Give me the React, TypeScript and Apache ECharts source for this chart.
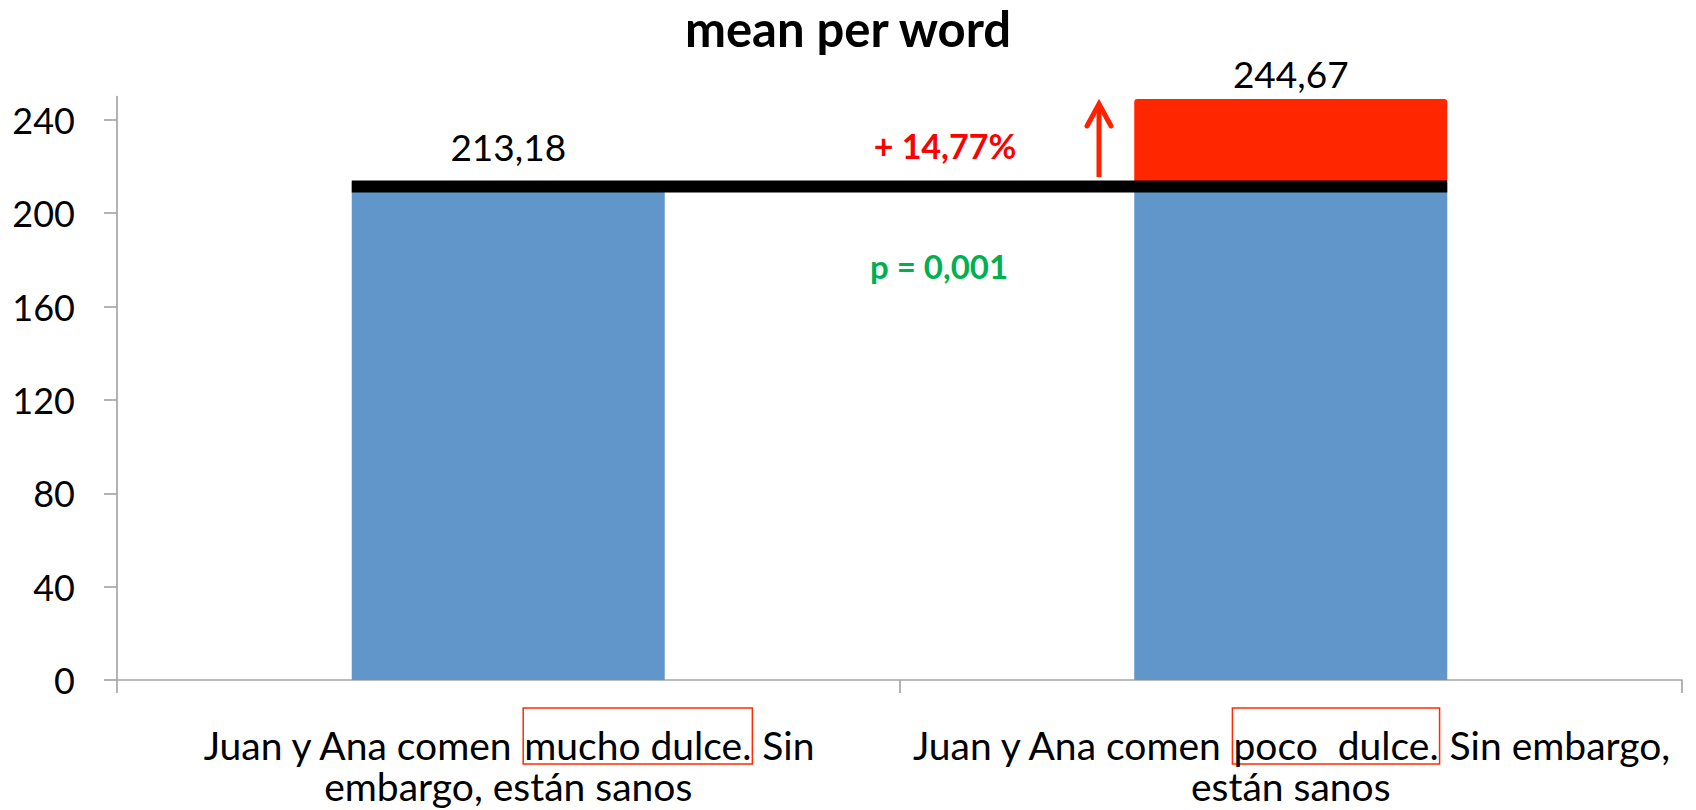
import React, { useEffect, useRef } from "react";
import * as echarts from "echarts";

const chartTitle = "mean per word";
const categories = [
  "Juan y Ana comen mucho dulce. Sin\nembargo, están sanos",
  "Juan y Ana comen poco  dulce. Sin embargo,\nestán sanos",
];
const highlighted = ["mucho dulce.", "poco  dulce."];
const baseValues = [213.18, 213.18];
const redBarTop = [null, 248.9];
const valueLabels = ["213,18", "244,67"];
const baselineValue = 213.18;
const yTicks = [0, 40, 80, 120, 160, 200, 240];
const yMax = 250;
const increaseText = "+ 14,77%";
const pText = "p = 0,001";

const FONT = "Lato, 'Open Sans', sans-serif";
const BLUE = "#6096c9";
const RED_BAR = "#ff2600";

export default function App() {
  const ref = useRef<HTMLDivElement>(null);
  useEffect(() => {
    if (!ref.current) return;
    const chart = echarts.init(ref.current, null, { renderer: "svg" });
    const redSegment = redBarTop.map((v, i) => (v == null ? null : v - baseValues[i]));
    chart.setOption({
      animation: false,
      backgroundColor: "#ffffff",
      textStyle: { fontFamily: FONT },
      title: {
        text: chartTitle,
        left: "center",
        top: 3,
        padding: 0,
        textStyle: { fontFamily: FONT, fontSize: 49, fontWeight: "bold", color: "#000" },
      },
      grid: { left: 117, right: 14, top: 96.5, bottom: 130, containLabel: false },
      xAxis: {
        type: "category",
        data: categories,
        axisLine: { lineStyle: { color: "#a6a6a6", width: 1.7 } },
        axisTick: { show: true, length: 13, lineStyle: { color: "#a6a6a6", width: 1.7 } },
        axisLabel: {
          interval: 0,
          margin: 40,
          color: "#000",
          fontFamily: FONT,
          fontSize: 39,
          lineHeight: 44,
          formatter: (v: string, i: number) => {
            const h = highlighted[i];
            const lines = v.split("\n");
            const first = h ? lines[0].replace(h, `}{box|${h}}{t|`) : lines[0];
            return [`{t|${first}}`, ...lines.slice(1)].join("\n");
          },
          rich: {
            t: {
              fontFamily: FONT,
              fontSize: 39,
              lineHeight: 44,
              color: "#000",
              verticalAlign: "bottom",
            },
            box: {
              fontFamily: FONT,
              fontSize: 39,
              lineHeight: 44,
              color: "#000",
              borderColor: "#ff2a00",
              borderWidth: 1.5,
              padding: [17, 1, 0, 1],
              verticalAlign: "bottom",
            },
          },
        },
      },
      yAxis: {
        type: "value",
        min: 0,
        max: yMax,
        interval: 40,
        splitLine: { show: false },
        axisLine: { show: true, lineStyle: { color: "#a6a6a6", width: 1.7 } },
        axisTick: { show: true, length: 13, customValues: yTicks, lineStyle: { color: "#a6a6a6", width: 1.7 } },
        axisLabel: { customValues: yTicks, margin: 42, color: "#000", fontFamily: FONT, fontSize: 36 },
      },
      series: [
        {
          type: "bar",
          stack: "s",
          barWidth: "40%",
          itemStyle: { color: BLUE },
          data: baseValues.map((v, i) => ({
            value: v,
            label: {
              show: i === 0,
              position: "top",
              distance: 17,
              formatter: valueLabels[i],
              color: "#000",
              fontFamily: FONT,
              fontSize: 37,
            },
          })),
        },
        {
          type: "bar",
          stack: "s",
          barWidth: "40%",
          z: 3,
          itemStyle: { color: RED_BAR, borderRadius: 3 },
          data: redSegment.map((v, i) => ({
            value: v,
            label: {
              show: v != null,
              position: "top",
              distance: 7,
              formatter: valueLabels[i],
              color: "#000",
              fontFamily: FONT,
              fontSize: 37,
            },
          })),
        },
        {
          type: "custom",
          z: 5,
          data: [[0, baselineValue]],
          renderItem: (params: any, api: any) => {
            const v = api.value(1);
            const p0 = api.coord([0, v]);
            const p1 = api.coord([categories.length - 1, v]);
            const band = api.size([1, 0])[0];
            const half = (band * 0.4) / 2;
            return {
              type: "rect",
              shape: { x: p0[0] - half, y: p0[1] - 2, width: p1[0] - p0[0] + 2 * half, height: 12 },
              style: { fill: "#000" },
            };
          },
        },
      ],
      graphic: [
        {
          type: "text",
          x: 945,
          y: 145,
          style: {
            text: increaseText,
            fill: "#ff0000",
            fontFamily: FONT,
            fontWeight: "bold",
            fontSize: 34,
            align: "center",
            verticalAlign: "middle",
          },
        },
        {
          type: "text",
          x: 939,
          y: 266,
          style: {
            text: pText,
            fill: "#00b050",
            fontFamily: FONT,
            fontWeight: "bold",
            fontSize: 33,
            align: "center",
            verticalAlign: "middle",
          },
        },
        {
          type: "line",
          shape: { x1: 1099, y1: 177, x2: 1099, y2: 106 },
          style: { stroke: "#ff2200", lineWidth: 5 },
        },
        {
          type: "polyline",
          shape: { points: [[1087, 126], [1099, 104], [1111, 126]] },
          style: { stroke: "#ff2200", lineWidth: 5, fill: "none", lineCap: "round", lineJoin: "miter" },
        },
      ],
    });
    return () => chart.dispose();
  }, []);
  return (
    <div
      ref={ref}
      style={{ position: "fixed", left: 0, top: 0, width: 1696, height: 810, background: "#fff" }}
    />
  );
}
